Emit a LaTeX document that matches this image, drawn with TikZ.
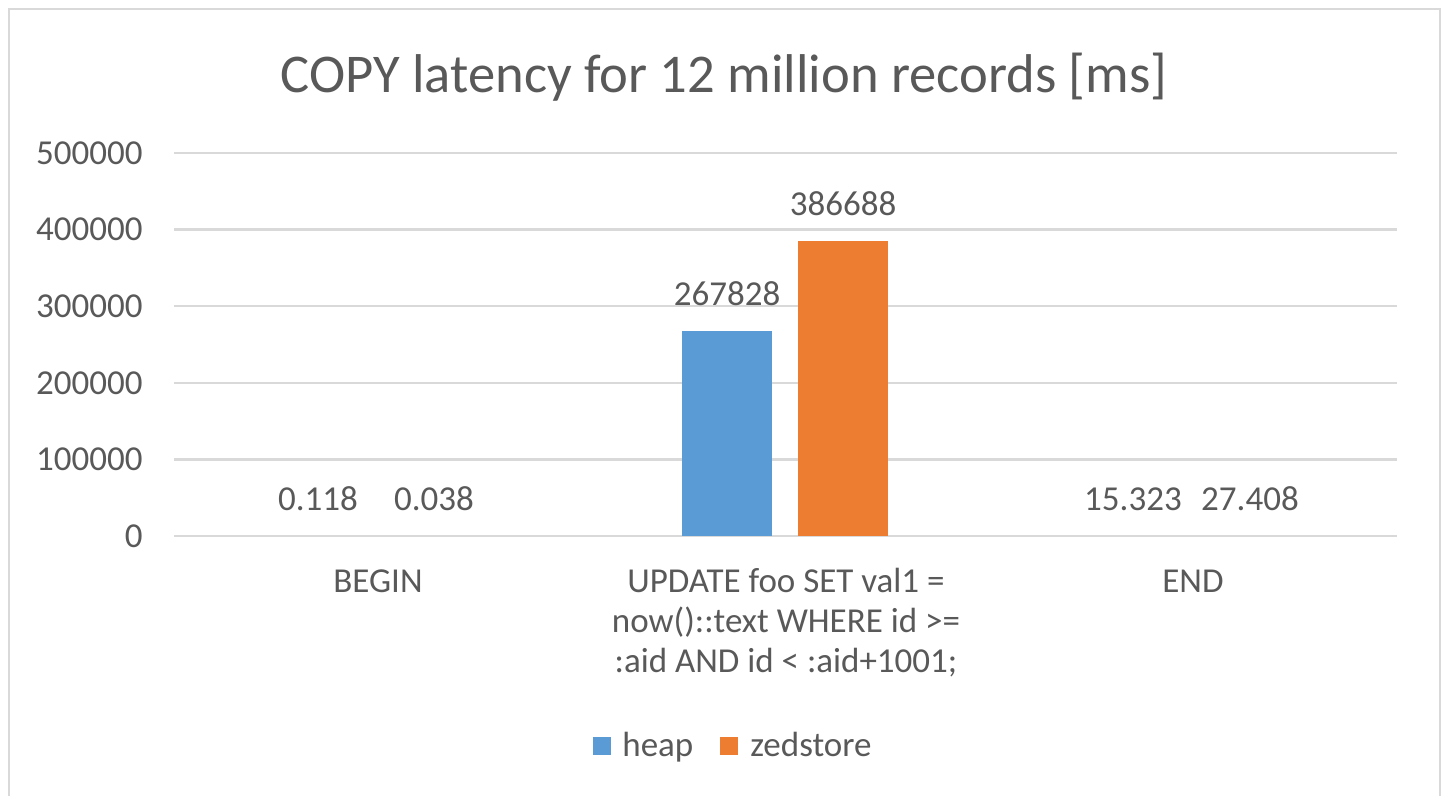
\documentclass[tikz,border=0pt]{standalone}
\usepackage{fontspec}
\setmainfont{Carlito}
\definecolor{txt}{HTML}{595959}
\definecolor{grid}{HTML}{D9D9D9}
\definecolor{heapc}{HTML}{5B9BD5}
\definecolor{zedc}{HTML}{ED7D31}
\begin{document}
\begin{tikzpicture}[x=0.5pt,y=-0.5pt,
  lbl/.style={text=txt,font=\fontsize{17.5}{20}\selectfont,inner sep=0pt},
  ylbl/.style={lbl,anchor=east},
  gridline/.style={draw=grid,line width=1.2pt},
  ttl/.style={text=txt,font=\fontsize{27.3}{30}\selectfont,inner sep=0pt}]
\useasboundingbox[fill=white] (0,0) rectangle (1448,796);
\begin{scope}
\clip (0,0) rectangle (1448,796);
\draw[draw=grid,line width=1.4pt] (9,9) rectangle (1440,820);
\end{scope}
% title
\node[ttl] (title) at (724,77) {COPY latency for 12 million records [ms]};
% gridlines and y labels
\foreach \v/\t in {0/0,1/100000,2/200000,3/300000,4/400000,5/500000}{
  \coordinate (gl\v) at (174,{536-76.6*\v});
  \coordinate (gr\v) at (1397,{536-76.6*\v});
  \draw[gridline] (gl\v) -- (gr\v);
  \node[ylbl] (y\v) at (143,{536-76.6*\v}) {\t};
}
% bars
\fill[heapc] (682,536) rectangle (772,331);
\fill[zedc] (798,536) rectangle (888,240.6);
% data labels
\node[lbl] (d1) at (727,294) {267828};
\node[lbl] (d2) at (843,204) {386688};
\node[lbl] (d3) at (318,499) {0.118};
\node[lbl] (d4) at (434,499) {0.038};
\node[lbl] (d5) at (1133,499) {15.323};
\node[lbl] (d6) at (1250,499) {27.408};
% category labels
\node[lbl] (c1) at (378,581) {BEGIN};
\node[lbl,align=center,anchor=north] (c2) at (786,568) {UPDATE foo SET val1 =\\now()::text WHERE id >=\\:aid AND id < :aid+1001;};
\node[lbl] (c3) at (1193,581) {END};
% legend
\fill[heapc] (593,737) rectangle (611,755);
\node[lbl,anchor=base west] (lh) at (622,757) {heap};
\fill[zedc] (720,737) rectangle (738,755);
\node[lbl,anchor=base west] (lz) at (750,757) {zedstore};
\end{tikzpicture}
\end{document}
